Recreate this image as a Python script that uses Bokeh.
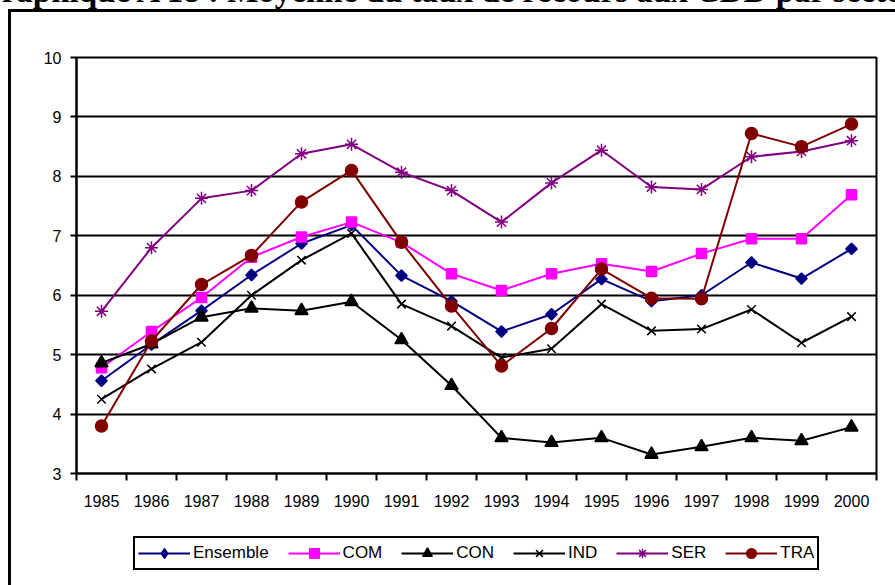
from bokeh.plotting import figure
from bokeh.layouts import column
from bokeh.models import (FixedTicker, Legend, LegendItem, Range1d, Div)
from bokeh.embed import file_html
from bokeh.resources import INLINE
import numpy as np

# ---- data ----
years = [1985, 1986, 1987, 1988, 1989, 1990, 1991, 1992,
         1993, 1994, 1995, 1996, 1997, 1998, 1999, 2000]
ensemble = [4.56, 5.17, 5.74, 6.34, 6.87, 7.18, 6.33, 5.90, 5.39, 5.68, 6.27, 5.90, 6.00, 6.55, 6.28, 6.78]
com = [4.78, 5.39, 5.96, 6.64, 6.98, 7.23, 6.89, 6.36, 6.08, 6.36, 6.53, 6.40, 6.70, 6.95, 6.95, 7.69]
con = [4.86, 5.18, 5.63, 5.78, 5.74, 5.89, 5.25, 4.48, 3.60, 3.52, 3.60, 3.32, 3.45, 3.60, 3.55, 3.78]
ind = [4.25, 4.76, 5.21, 6.00, 6.59, 7.04, 5.85, 5.48, 4.95, 5.10, 5.85, 5.40, 5.43, 5.76, 5.20, 5.64]
ser = [5.73, 6.80, 7.63, 7.76, 8.38, 8.54, 8.07, 7.76, 7.23, 7.89, 8.44, 7.82, 7.78, 8.33, 8.42, 8.60]
tra = [3.80, 5.23, 6.18, 6.67, 7.57, 8.10, 6.89, 5.82, 4.81, 5.44, 6.44, 5.95, 5.94, 8.72, 8.50, 8.88]
y_ticks = [3, 4, 5, 6, 7, 8, 9, 10]
series_names = ["Ensemble", "COM", "CON", "IND", "SER", "TRA"]
title_text = "Graphique A 18 : Moyenne du taux de recours aux CDD par secteur"

FONT = "Liberation Sans"
LINE = "linear-gradient(#000, #000)"

styles = [
    dict(data=ensemble, color="#000080", marker="square", size=8, angle=np.pi / 4, lmarker="diamond", lsize=14),
    dict(data=com, color="#FF00FF", marker="square", size=10, angle=0, lmarker="square", lsize=10),
    dict(data=con, color="#000000", marker="triangle", size=13, angle=0, lmarker="triangle", lsize=12),
    dict(data=ind, color="#000000", marker="x", size=12, angle=0, lmarker="x", lsize=11),
    dict(data=ser, color="#800080", marker="asterisk", size=13, angle=0, lmarker="asterisk", lsize=12),
    dict(data=tra, color="#800000", marker="circle", size=12, angle=0, lmarker="circle", lsize=11),
]

# ---------------- title strip (cut off at the top, as in the reference) ----------------
head = Div(
    text=('<div style="position:relative; left:-24px; top:-25px; white-space:nowrap; '
          'font-family:\'Liberation Serif\'; font-weight:bold; font-size:33px; '
          'line-height:33px; color:#000;">' + title_text + '</div>'),
    width=895, height=12, margin=0,
    styles={"overflow": "hidden",
            "background": (LINE + " 8px 9px / 3px 100% no-repeat, "
                           + LINE + " 8px 9px / 100% 3px no-repeat, #fff")})

# ---------------- main chart ----------------
p = figure(width=895, height=508, output_backend="svg", toolbar_location=None,
           x_range=Range1d(years[0] - 0.5, years[-1] + 0.5),
           y_range=Range1d(y_ticks[0], y_ticks[-1]),
           min_border_left=76, min_border_right=19, min_border_top=45,
           min_border_bottom=47, title=None)
p.background_fill_color = "white"
p.border_fill_alpha = 0
p.styles = {"background": LINE + " 8px 0px / 3px 100% no-repeat, #fff"}
p.outline_line_color = "black"
p.outline_line_width = 2

p.xaxis.ticker = FixedTicker(ticks=years,
                             minor_ticks=[y - 0.5 for y in years] + [years[-1] + 0.5])
p.xaxis.major_tick_out = 0
p.xaxis.major_tick_in = 0
p.xaxis.minor_tick_out = 7
p.xaxis.minor_tick_in = 0
p.xaxis.minor_tick_line_color = "black"
p.xaxis.minor_tick_line_width = 2
p.xaxis.major_label_standoff = 14
p.yaxis.ticker = FixedTicker(ticks=y_ticks)
p.yaxis.major_tick_out = 6
p.yaxis.major_tick_in = 0
p.yaxis.minor_tick_line_color = None
p.yaxis.major_label_standoff = 9
for ax in (p.xaxis, p.yaxis):
    ax.axis_line_color = "black"
    ax.axis_line_width = 2
    ax.major_tick_line_color = "black"
    ax.major_tick_line_width = 2
    ax.major_label_text_font = FONT
    ax.major_label_text_font_size = "16px"
    ax.major_label_text_color = "black"

p.xgrid.visible = False
p.ygrid.ticker = FixedTicker(ticks=y_ticks)
p.ygrid.grid_line_color = "black"
p.ygrid.grid_line_width = 2

for st in styles:
    p.line(years, st["data"], line_color=st["color"], line_width=2)
    p.scatter(years, st["data"], marker=st["marker"], size=st["size"], angle=st["angle"],
              fill_color=st["color"], line_color=st["color"], line_width=1.5)

# ---------------- legend strip ----------------
q = figure(width=895, height=65, output_backend="svg", toolbar_location=None,
           x_range=Range1d(0, 1), y_range=Range1d(0, 1), title=None,
           x_axis_location=None, y_axis_location=None,
           min_border=0, min_border_left=0, min_border_right=0,
           min_border_top=0, min_border_bottom=0)
q.grid.visible = False
q.outline_line_color = None
q.background_fill_alpha = 0
q.border_fill_alpha = 0
q.styles = {"background": LINE + " 8px 0px / 3px 100% no-repeat, #fff"}

items = []
for name, st in zip(series_names, styles):
    # same series, drawn outside this strip's visible range: only their legend glyphs show
    ln = q.line(years, st["data"], line_color=st["color"], line_width=2)
    sc = q.scatter(years, st["data"], marker=st["lmarker"], size=st["lsize"],
                   fill_color=st["color"], line_color=st["color"], line_width=1.5)
    items.append(LegendItem(label=name, renderers=[ln, sc]))

legend = Legend(items=items, orientation="horizontal", location=(57, 15),
                label_text_font=FONT, label_text_font_size="17px",
                label_text_color="black",
                glyph_width=52, glyph_height=24, label_height=24, label_standoff=3,
                spacing=19, padding=3, margin=0,
                border_line_color="black", border_line_width=2, border_line_alpha=1,
                background_fill_color="white", background_fill_alpha=1)
q.add_layout(legend, "center")

open("out.html", "w").write(file_html(column(head, p, q, spacing=0), INLINE))
